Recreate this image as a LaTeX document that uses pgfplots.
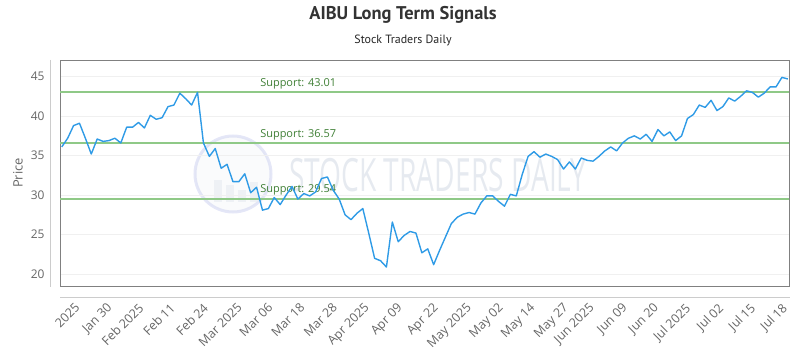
\documentclass[border=0pt]{standalone}
\usepackage{fontspec}
\setmainfont{Open Sans}
\newfontfamily\titlefont{PT Sans}
\usepackage{pgfplots}
\usepackage{pgfplotstable}
\pgfplotsset{compat=1.18}

\definecolor{pricecol}{HTML}{2F9BE6}
\definecolor{supportcol}{HTML}{8FC987}
\definecolor{supporttxt}{HTML}{3F7F35}
\definecolor{labelgray}{HTML}{666666}
\definecolor{framegray}{HTML}{808080}
\definecolor{wmark}{HTML}{E6EAF0}

% daily closing prices, one row per trading day
\pgfplotstableread{
i y
0 36.1
1 37.2
2 38.8
3 39.1
4 37.2
5 35.2
6 37.1
7 36.8
8 36.9
9 37.2
10 36.6
11 38.6
12 38.6
13 39.2
14 38.5
15 40.1
16 39.6
17 39.8
18 41.2
19 41.4
20 42.9
21 42.2
22 41.4
23 43.0
24 36.6
25 34.9
26 35.9
27 33.4
28 33.9
29 31.7
30 31.7
31 32.7
32 30.3
33 31.0
34 28.1
35 28.3
36 29.7
37 28.8
38 30.0
39 31.1
40 29.5
41 30.2
42 29.9
43 30.4
44 32.1
45 32.3
46 30.6
47 29.5
48 27.5
49 26.9
50 27.7
51 28.3
52 25.2
53 22.0
54 21.7
55 20.9
56 26.6
57 24.1
58 24.9
59 25.4
60 25.2
61 22.7
62 23.2
63 21.2
64 23.0
65 24.7
66 26.4
67 27.2
68 27.6
69 27.8
70 27.6
71 29.0
72 29.9
73 29.9
74 29.2
75 28.6
76 30.1
77 29.9
78 32.6
79 34.9
80 35.5
81 34.8
82 35.2
83 34.9
84 34.5
85 33.3
86 34.2
87 33.3
88 34.7
89 34.4
90 34.3
91 34.9
92 35.6
93 36.1
94 35.6
95 36.6
96 37.2
97 37.5
98 37.1
99 37.7
100 36.8
101 38.3
102 37.5
103 38.0
104 36.9
105 37.5
106 39.7
107 40.2
108 41.4
109 41.1
110 42.0
111 40.7
112 41.2
113 42.3
114 41.9
115 42.5
116 43.2
117 43.0
118 42.4
119 42.9
120 43.7
121 43.7
122 44.9
123 44.7
}\pricetable

\begin{document}
\begin{tikzpicture}
\useasboundingbox (0bp,0bp) rectangle (800bp,350bp);

\begin{scope}[x=1bp,y=1bp]
% titles
\node[font=\titlefont\bfseries\fontsize{18.5}{18.5}\selectfont, text=black!80] at (403,335) {AIBU Long Term Signals};
\node[font=\titlefont\fontsize{12}{12}\selectfont, text=black!85] at (403,310) {Stock Traders Daily};

% watermark
\begin{scope}[opacity=0.55]
  \draw[wmark!90!blue, line width=3bp, fill=wmark!40] (233,176) circle (38);
  \fill[wmark] (214,148) rectangle (222,170);
  \fill[wmark] (226,148) rectangle (234,165);
  \fill[wmark] (238,148) rectangle (246,160);
  \fill[wmark] (250,148) rectangle (258,168);
\end{scope}
\node[font=\fontsize{46}{46}\selectfont, text=wmark, xscale=0.615, anchor=west, inner sep=0pt] at (289,175) {STOCK TRADERS DAILY};

% offset axis lines
\draw[black!20, line width=0.8bp] (50,290) -- (50,63);
\draw[black!20, line width=0.8bp] (60,53) -- (790,53);
\end{scope}

\begin{axis}[
  at={(60bp,64bp)}, anchor=south west,
  scale only axis, width=729bp, height=226bp,
  xmin=-0.3, xmax=123.2, ymin=18.5, ymax=47.1,
  axis line style={draw=framegray, line width=0.8bp},
  ymajorgrids, grid style={black!6, line width=0.6bp},
  major tick length=0pt,
  ytick={20,25,30,35,40,45},
  yticklabel style={font=\fontsize{12}{12}\selectfont, text=labelgray, xshift=-12bp},
  /pgf/number format/assume math mode=true,
  xtick={3.1,8.5,13.9,19.2,24.8,30.6,35.8,41.2,46.7,52.1,57.7,63.8,69.4,74.8,80.2,85.8,90.2,95.8,101.1,106.5,112.1,117.5,122.9},
  xticklabels={2025,Jan 30,Feb 2025,Feb 11,Feb 24,Mar 2025,Mar 06,Mar 18,Mar 28,Apr 2025,Apr 09,Apr 22,May 2025,May 02,May 14,May 27,Jun 2025,Jun 09,Jun 20,Jul 2025,Jul 02,Jul 15,Jul 18},
  xticklabel style={font=\fontsize{12.5}{12.5}\selectfont, text=labelgray, xshift=-6bp, yshift=-16bp, rotate=45, anchor=north east, inner sep=0pt},
  ylabel={Price},
  ylabel style={font=\fontsize{13}{13}\selectfont, text=labelgray, at={(-42bp,0.5)}, anchor=center},
  clip=false,
]
% support levels
\addplot[supportcol, line width=1.8bp, forget plot] coordinates {(-0.3,43.01) (123.2,43.01)};
\addplot[supportcol, line width=1.8bp, forget plot] coordinates {(-0.3,36.57) (123.2,36.57)};
\addplot[supportcol, line width=1.8bp, forget plot] coordinates {(-0.3,29.54) (123.2,29.54)};
\node[font=\fontsize{11}{11}\selectfont, text=supporttxt, anchor=south west, inner sep=0pt] at (axis cs:33.6,43.01) [yshift=3bp] {Support: 43.01};
\node[font=\fontsize{11}{11}\selectfont, text=supporttxt, anchor=south west, inner sep=0pt] at (axis cs:33.6,36.57) [yshift=3bp] {Support: 36.57};
\node[font=\fontsize{11}{11}\selectfont, text=supporttxt, anchor=south west, inner sep=0pt] at (axis cs:33.6,29.54) [yshift=3bp] {Support: 29.54};
% price
\addplot[pricecol, line width=1.4bp, line join=round] table[x=i, y=y] {\pricetable};
\end{axis}
\end{tikzpicture}
\end{document}
